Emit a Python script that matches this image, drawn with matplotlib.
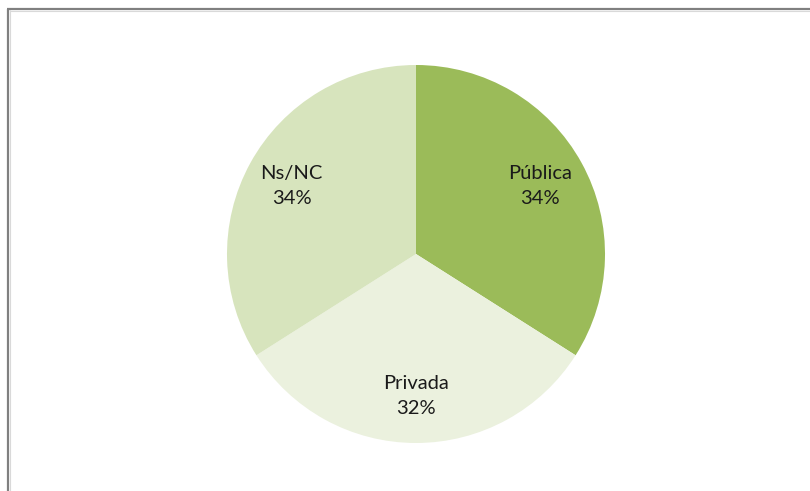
import matplotlib
matplotlib.use("Agg")
import matplotlib.pyplot as plt
from matplotlib.lines import Line2D

categories = ["Pública", "Privada", "Ns/NC"]
values = [34, 32, 34]
colors = ["#9BBB59", "#EBF1DE", "#D7E4BD"]

W, H = 810, 491
fig = plt.figure(figsize=(W / 100, H / 100), dpi=100)
fig.patch.set_facecolor("white")

ax = fig.add_axes([0, 0, 1, 1])

labels = [f"{c}\n{v}%" for c, v in zip(categories, values)]
wedges, texts = ax.pie(values, colors=colors, startangle=90, counterclock=False,
                       center=(416, H - 254), radius=189, labels=labels,
                       labeldistance=0.75, frame=True,
                       wedgeprops=dict(linewidth=0),
                       textprops=dict(fontsize=14.5, family="Lato", color="#1a1a1a",
                                      linespacing=1.6))
for t in texts:
    t.set_ha("center")
    t.set_multialignment("center")
ax.set_xlim(0, W)
ax.set_ylim(0, H)
ax.set_aspect("equal")
ax.axis("off")

# chart area frame (top and left edges visible)
def fl(x0, y0, x1, y1, c, lw):
    fig.add_artist(Line2D([x0 / W, x1 / W], [1 - y0 / H, 1 - y1 / H],
                          transform=fig.transFigure, color=c, linewidth=lw,
                          solid_capstyle="butt"))
fl(10, 10.5, 810, 10.5, "#D9D9D9", 0.8)
fl(9.8, 10, 9.8, 491, "#D9D9D9", 0.8)
fl(7, 9, 810, 9, "#808080", 1.6)
fl(8, 9, 8, 491, "#808080", 1.6)

fig.savefig("out.png", dpi=100, facecolor="white")
